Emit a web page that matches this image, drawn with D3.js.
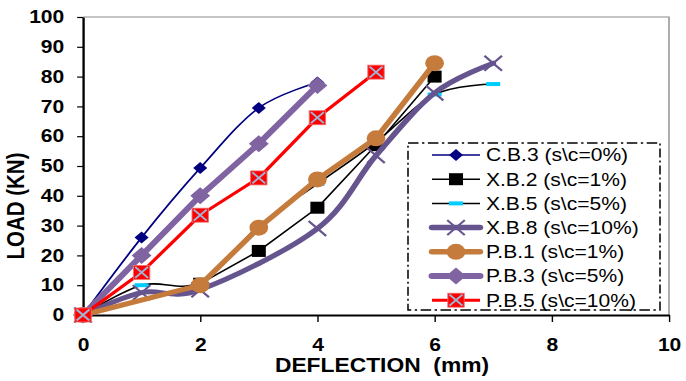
<!DOCTYPE html>
<html><head><meta charset="utf-8">
<script src="https://cdn.jsdelivr.net/npm/d3@7"></script>
<style>
html,body{margin:0;padding:0;background:#fff;}
svg{display:block;font-family:"Liberation Sans",Arial,sans-serif;}
</style></head>
<body><svg id="chart" width="686" height="381"></svg>
<script>
// ---- data ----
const seriesNames = ["C.B.3 (s\\c=0%)","X.B.2 (s\\c=1%)","X.B.5 (s\\c=5%)","X.B.8 (s\\c=10%)","P.B.1 (s\\c=1%)","P.B.3 (s\\c=5%)","P.B.5 (s\\c=10%)"];
const cb3X = [0,1,2,3,4];          const cb3Y = [0,26,49.3,69.5,78];
const xb2X = [0,2,3,4,5,6];        const xb2Y = [0,10.5,21.5,36,57,80];
const xb5X = [0,1,2,3,4,5,6,7];    const xb5Y = [0,10,11,30,44,58,74,77.5];
const xb8X = [0,1,2,4,5,6,7];      const xb8Y = [0,7.5,8.5,29,53.5,74.5,84.5];
const pb1X = [0,2,3,4,5,6];        const pb1Y = [0,10,29.3,45.5,59.3,84.5];
const pb3X = [0,1,2,3,4];          const pb3Y = [0,20,40,57.5,77];
const pb5X = [0,1,2,3,4,5];        const pb5Y = [0,14.3,33.5,46,66.2,81.5];
const xTicks = [0,2,4,6,8,10];
const yTicks = [0,10,20,30,40,50,60,70,80,90,100];
const xTitle = "DEFLECTION  (mm)";
const yTitle = "LOAD (KN)";

const S = 1.17; // horizontal stretch of the original picture
const sx = v => v / S;

const svg = d3.select("#chart");
const g = svg.append("g").attr("transform", `scale(${S},1)`);

const x = d3.scaleLinear().domain([0,10]).range([sx(83), sx(669)]);
const y = d3.scaleLinear().domain([0,100]).range([315, 17]);

// frame (top/right grey)
g.append("path").attr("d", `M${x(0)},${y(100)}H${x(10)}V${y(0)}`)
  .attr("fill","none").attr("stroke","#8c8c8c").attr("stroke-width",1.2);

// axes
const yAxis = g.append("g").attr("transform", `translate(${x(0)},0)`)
  .call(d3.axisLeft(y).tickValues(yTicks).tickSize(5).tickPadding(11).tickSizeOuter(0));
const xAxis = g.append("g").attr("transform", `translate(0,${y(0)})`)
  .call(d3.axisBottom(x).tickValues(xTicks).tickSize(7).tickPadding(16).tickSizeOuter(0));
[yAxis,xAxis].forEach(a=>{
  a.select(".domain").attr("stroke","#000").attr("stroke-width",2);
  a.selectAll(".tick line").attr("stroke","#000").attr("stroke-width",1.2);
  a.selectAll(".tick text").attr("fill","#000").style("font-size","18px").style("font-weight","bold")
    .style("font-family",'"Liberation Sans",Arial,sans-serif');
});

// titles
g.append("text").attr("x", sx(382)).attr("y", 372).attr("text-anchor","middle")
  .style("font-size","19.5px").style("font-weight","bold").style("white-space","pre")
  .attr("xml:space","preserve").text(xTitle);
g.append("text").attr("transform", `translate(${sx(24)},206) rotate(-90)`).attr("text-anchor","middle")
  .style("font-size","20.5px").style("font-weight","bold").text(yTitle);

// marker painters
function diamond(sel, r, fill){ sel.append("path").attr("d",`M0,${-r}L${r},0L0,${r}L${-r},0Z`).attr("fill",fill); }
function square(sel, s, fill){ sel.append("rect").attr("x",-s/2).attr("y",-s/2).attr("width",s).attr("height",s).attr("fill",fill); }
function dash(sel, fill){ sel.append("rect").attr("x",-6).attr("y",-2).attr("width",12).attr("height",4).attr("fill",fill); }
function cross(sel, r, col, w){ sel.append("path").attr("d",`M${-r},${-r}L${r},${r}M${-r},${r}L${r},${-r}`).attr("stroke",col).attr("stroke-width",w).attr("fill","none"); }
function circle(sel, r, fill){ sel.append("circle").attr("r",r).attr("fill",fill); }
function redBox(sel){ sel.append("rect").attr("x",-7).attr("y",-7).attr("width",14).attr("height",14).attr("fill","#ff0000").attr("stroke","#f07070").attr("stroke-width",0.8);
  cross(sel,5.5,"#9fb4d4",1.8); }

const smooth = d3.curveCatmullRom.alpha(0);
const series = [
  {xs:cb3X, ys:cb3Y, color:"#000080", w:1.6, curve:smooth, mark:s=>diamond(s,6,"#000080")},
  {xs:xb2X, ys:xb2Y, color:"#000000", w:1.5, curve:d3.curveLinear, mark:s=>square(s,12,"#000")},
  {xs:xb5X, ys:xb5Y, color:"#000000", w:1.5, curve:smooth, mark:s=>dash(s,"#00ccff")},
  {xs:xb8X, ys:xb8Y, color:"#66548f", w:5, curve:smooth, mark:s=>cross(s,7.5,"#66548f",2)},
  {xs:pb1X, ys:pb1Y, color:"#c57b3c", w:5, curve:d3.curveLinear, mark:s=>circle(s,8,"#c57b3c")},
  {xs:pb3X, ys:pb3Y, color:"#8064a2", w:5.5, curve:d3.curveLinear, mark:s=>diamond(s,8.5,"#8064a2")},
  {xs:pb5X, ys:pb5Y, color:"#ff0000", w:3, curve:d3.curveLinear, mark:redBox}
];

const plot = g.append("g");
series.forEach(sr=>{
  const pts = sr.xs.map((v,i)=>[v, sr.ys[i]]);
  plot.append("path").datum(pts)
    .attr("d", d3.line().x(d=>x(d[0])).y(d=>y(d[1])).curve(sr.curve))
    .attr("fill","none").attr("stroke",sr.color).attr("stroke-width",sr.w)
    .attr("stroke-linejoin","round").attr("stroke-linecap","round");
  pts.forEach(p=>{
    const m = plot.append("g").attr("transform",`translate(${x(p[0])},${y(p[1])})`);
    sr.mark(m);
  });
});

// legend
const lg = g.append("g");
lg.append("rect").attr("x",sx(408)).attr("y",143).attr("width",sx(660)-sx(408)).attr("height",167)
  .attr("fill","#fff").attr("stroke","#000").attr("stroke-width",1.3).attr("stroke-dasharray","9,3,2,3");
series.forEach((sr,i)=>{
  const cy = 155 + i*24.2;
  lg.append("line").attr("x1",sx(432)).attr("x2",sx(480)).attr("y1",cy).attr("y2",cy)
    .attr("stroke",sr.color).attr("stroke-width",sr.w>3?Math.min(sr.w+0.5,6):sr.w).attr("stroke-linecap",sr.w>3?"round":"butt");
  const m = lg.append("g").attr("transform",`translate(${sx(456)},${cy})`);
  sr.mark(m);
  lg.append("text").attr("x",sx(486)).attr("y",cy).attr("dy","0.36em")
    .style("font-size","18px").text(seriesNames[i]);
});
</script></body></html>
